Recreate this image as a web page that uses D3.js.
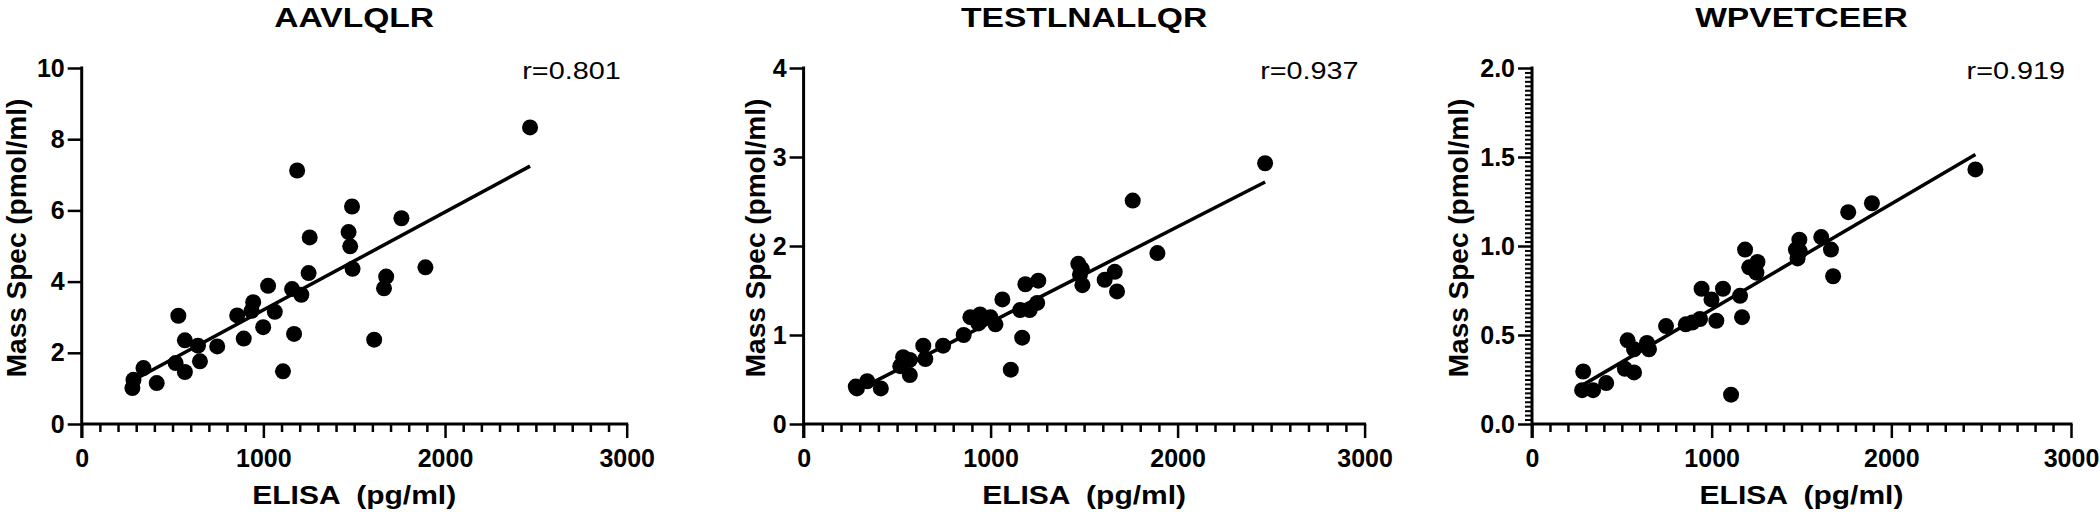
<!DOCTYPE html>
<html>
<head>
<meta charset="utf-8">
<script src="https://cdn.jsdelivr.net/npm/d3@7/dist/d3.min.js"></script>
<style>
  html, body { margin: 0; padding: 0; background: #fff; }
  svg { display: block; }
  text { font-family: "Liberation Sans", Arial, sans-serif; fill: #000; }
</style>
</head>
<body>
<svg id="chart" width="2100" height="512"></svg>
<script>
// ---------------- data ----------------
const elisa = [2468, 1186, 1488, 1469, 1255, 1478, 1491, 1249, 1026, 1158, 1209, 944, 856, 935, 1063, 532, 999, 1169, 892, 568, 640, 746, 1610, 651, 517, 340, 568, 1108, 413, 285, 279, 1760, 1892, 1676, 1664];
const aavlqlr = [8.33, 7.12, 6.11, 5.39, 5.24, 4.99, 4.36, 4.24, 3.88, 3.79, 3.63, 3.42, 3.05, 3.18, 3.15, 3.04, 2.72, 2.53, 2.40, 2.35, 2.20, 2.18, 2.37, 1.76, 1.71, 1.57, 1.46, 1.48, 1.15, 1.24, 1.01, 5.78, 4.40, 4.14, 3.81];
const testlnallqr = [2.93, 1.57, 1.74, 1.80, 1.61, 1.68, 1.56, 1.36, 1.12, 1.28, 1.28, 1.23, 1.00, 1.13, 1.40, 0.75, 1.20, 0.97, 1.20, 0.55, 0.88, 0.88, 1.62, 0.73, 0.65, 0.48, 0.72, 0.61, 0.40, 0.40, 0.42, 2.51, 1.92, 1.49, 1.71];
const wpvetceer = [1.43, 0.98, 1.035, 0.98, 0.91, 0.93, 0.97, 0.85, 0.58, 0.72, 0.88, 0.76, 0.56, 0.59, 0.76, 0.47, 0.70, 0.60, 0.57, 0.29, 0.455, 0.55, 1.05, 0.42, 0.31, 0.19, 0.42, 0.165, 0.23, 0.295, 0.19, 1.19, 1.24, 0.83, 0.98];

const titles = ["AAVLQLR", "TESTLNALLQR", "WPVETCEER"];
const rLabels = ["r=0.801", "r=0.937", "r=0.919"];
const yMaxes = [10, 4, 2];
const yMajorTicks = [[0, 2, 4, 6, 8, 10], [0, 1, 2, 3, 4], [0, 0.5, 1.0, 1.5, 2.0]];
const yMinorStep = [null, null, 0.025];
const yFormats = ["d", "d", ".1f"];
const xMajorTicks = [0, 1000, 2000, 3000];
const xMinorStep = 100;
const xMax = 3000;
const xLabel = "ELISA  (pg/ml)";
const yLabel = "Mass Spec (pmol/ml)";
const seriesList = [aavlqlr, testlnallqr, wpvetceer];

// ---------------- layout ----------------
const panelLeft = [81.7, 803.6, 1532];
const panelWidth = [545, 561, 539];
const yTitleBaseline = [26, 765, 1468];
const plotTop = 68, plotBottom = 424;
const stretch = 1.2;

const svg = d3.select("#chart");

function linreg(xs, ys) {
  const n = xs.length;
  const mx = d3.mean(xs), my = d3.mean(ys);
  let sxy = 0, sxx = 0;
  for (let i = 0; i < n; i++) { sxy += (xs[i] - mx) * (ys[i] - my); sxx += (xs[i] - mx) ** 2; }
  const b = sxy / sxx;
  return { a: my - b * mx, b };
}

seriesList.forEach((ys, p) => {
  const x0 = panelLeft[p], w = panelWidth[p];
  const x = d3.scaleLinear().domain([0, xMax]).range([x0, x0 + w]);
  const y = d3.scaleLinear().domain([0, yMaxes[p]]).range([plotBottom, plotTop]);
  const g = svg.append("g");

  // title
  g.append("text")
    .attr("transform", `translate(${x0 + w / 2},27) scale(${stretch},1)`)
    .attr("text-anchor", "middle")
    .style("font-size", "28px").style("font-weight", "bold")
    .text(titles[p]);

  // r label
  g.append("text")
    .attr("transform", `translate(${x0 + w - 6},79) scale(${stretch},1)`)
    .attr("text-anchor", "end")
    .style("font-size", "24px")
    .text(rLabels[p]);

  // x axis
  const xMinor = d3.range(0, xMax + 1e-9, xMinorStep).filter(v => !xMajorTicks.includes(v));
  const gxm = g.append("g").attr("transform", `translate(0,${plotBottom})`)
    .call(d3.axisBottom(x).tickValues(xMinor).tickSize(8).tickFormat(""));
  const gx = g.append("g").attr("transform", `translate(0,${plotBottom})`)
    .call(d3.axisBottom(x).tickValues(xMajorTicks).tickSize(14).tickFormat(d3.format("d")));
  [gxm, gx].forEach(a => {
    a.select(".domain").remove();
    a.selectAll(".tick line").attr("stroke", "#000").attr("stroke-width", 2.5);
  });
  gx.selectAll(".tick text")
    .attr("y", 43).attr("dy", null)
    .style("font-size", "25px").style("font-weight", "bold")
    .attr("font-family", null);

  // y axis
  if (yMinorStep[p]) {
    const minor = d3.range(0, yMaxes[p] + 1e-9, yMinorStep[p])
      .filter(v => !yMajorTicks[p].some(m => Math.abs(m - v) < 1e-6));
    const gym = g.append("g").attr("transform", `translate(${x0},0)`)
      .call(d3.axisLeft(y).tickValues(minor).tickSize(7).tickFormat(""));
    gym.select(".domain").remove();
    gym.selectAll(".tick line").attr("stroke", "#000").attr("stroke-width", 2);
  }
  const gy = g.append("g").attr("transform", `translate(${x0},0)`)
    .call(d3.axisLeft(y).tickValues(yMajorTicks[p]).tickSize(14).tickPadding(3).tickFormat(d3.format(yFormats[p])));
  gy.select(".domain").remove();
  gy.selectAll(".tick line").attr("stroke", "#000").attr("stroke-width", 2.5);
  gy.selectAll(".tick text")
    .style("font-size", "25px").style("font-weight", "bold")
    .attr("font-family", null);

  // axis lines
  g.append("line").attr("x1", x0).attr("x2", x0 + w + 1.5)
    .attr("y1", plotBottom).attr("y2", plotBottom)
    .attr("stroke", "#000").attr("stroke-width", 3);
  g.append("line").attr("x1", x0).attr("x2", x0)
    .attr("y1", plotTop - 1.5).attr("y2", plotBottom + 14)
    .attr("stroke", "#000").attr("stroke-width", 3);

  // axis titles
  g.append("text")
    .attr("transform", `translate(${x0 + w / 2},504) scale(${stretch},1)`)
    .attr("text-anchor", "middle")
    .style("font-size", "25px").style("font-weight", "bold")
    .style("white-space", "pre")
    .text(xLabel);
  g.append("text")
    .attr("transform", `translate(${yTitleBaseline[p]},238) rotate(-90)`)
    .attr("text-anchor", "middle")
    .style("font-size", "28px").style("font-weight", "bold")
    .text(yLabel);

  // regression line
  const fit = linreg(elisa, ys);
  const xr = d3.extent(elisa);
  g.append("line")
    .attr("x1", x(xr[0])).attr("y1", y(fit.a + fit.b * xr[0]))
    .attr("x2", x(xr[1])).attr("y2", y(fit.a + fit.b * xr[1]))
    .attr("stroke", "#000").attr("stroke-width", 3.5);

  // points
  g.selectAll("circle.pt").data(elisa.map((v, i) => [v, ys[i]]))
    .enter().append("circle").attr("class", "pt")
    .attr("cx", d => x(d[0])).attr("cy", d => y(d[1]))
    .attr("r", 8).attr("fill", "#000");
});
</script>
</body>
</html>
